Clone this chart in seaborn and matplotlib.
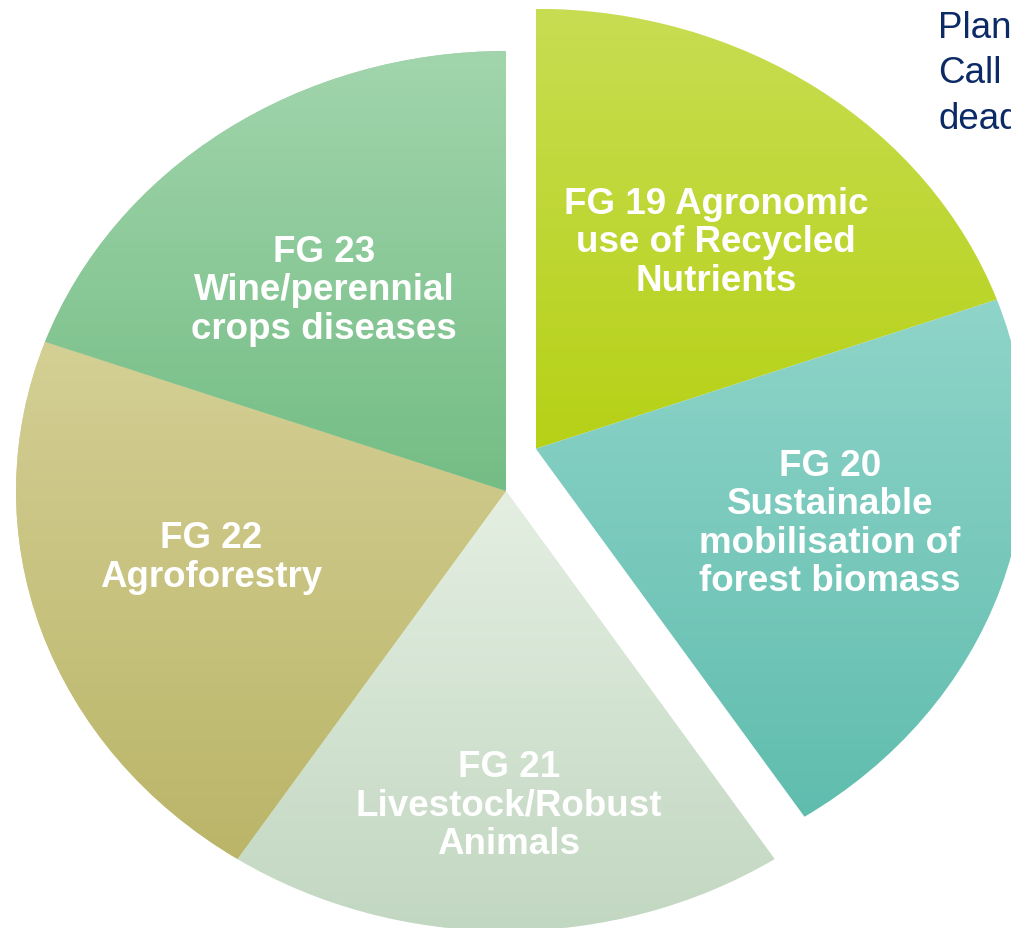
import numpy as np
import matplotlib
matplotlib.use("Agg")
import matplotlib.pyplot as plt
import seaborn as sns
from matplotlib.colors import LinearSegmentedColormap

sns.set_theme(style="white")
plt.rcParams['font.family'] = ['Liberation Sans', 'DejaVu Sans']

# ---- data ----
labels = ["FG 19 Agronomic\nuse of Recycled\nNutrients",
          "FG 20\nSustainable\nmobilisation of\nforest biomass",
          "FG 21\nLivestock/Robust\nAnimals",
          "FG 22\nAgroforestry",
          "FG 23\nWine/perennial\ncrops diseases"]
# slice shares (measured angular extent on the stretched ellipse, degrees)
shares = [70.2, 76.6, 66.5, 76.6, 70.2]
top_colors = ["#C8DD52", "#8FD4C9", "#E4EFE2", "#D4CF94", "#A2D5AC"]
bottom_colors = ["#B6D116", "#60BDAE", "#C2D7C1", "#BAB568", "#74BD85"]
exploded = [True, True, False, False, False]
side_text = "Plan\nCall\ndead"

# ---- figure ----
W, H = 1011, 929
fig = plt.figure(figsize=(W / 100, H / 100), dpi=100)
ax = fig.add_axes([0, 0, 1, 1])

wedges, _ = ax.pie(shares, startangle=90, counterclock=False, radius=1.0,
                   wedgeprops=dict(linewidth=0, edgecolor="white"))

# group offset for exploded slices (data units)
offset = (0.061, 0.096)
for w, ex in zip(wedges, exploded):
    if ex:
        w.set_center(offset)
        w.set_linewidth(1.2)

# stretched ellipse: center pixel (506, 492), radii 490 x 440
cx, cy, rx, ry = 506, 492, 490, 440
ax.set_aspect('auto')
ax.set_xlim(-cx / rx, (W - cx) / rx)
ax.set_ylim((cy - H) / ry, cy / ry)
ax.axis('off')

# gradient fill clipped to each wedge
for w, c0, c1 in zip(wedges, top_colors, bottom_colors):
    cmap = LinearSegmentedColormap.from_list("g", [c1, c0])
    bb = w.get_path().get_extents(w.get_patch_transform())
    grad = np.linspace(0, 1, 256).reshape(-1, 1)
    im = ax.imshow(grad, cmap=cmap, origin='lower', aspect='auto',
                   extent=(bb.x0, bb.x1, bb.y0, bb.y1), zorder=w.get_zorder() + 0.5)
    im.set_clip_path(w)
    w.set_facecolor(c0)

ax.set_xlim(-cx / rx, (W - cx) / rx)
ax.set_ylim((cy - H) / ry, cy / ry)

# slice label positions in pixel units
label_px = [(716, 243), (830, 524), (509, 806), (211, 558), (324, 291)]
for lab, (px, py) in zip(labels, label_px):
    ax.text((px - cx) / rx, (cy - py) / ry, lab, ha='center', va='center',
            color='white', fontsize=26.5, fontweight='bold', linespacing=1.13,
            zorder=10)

fig.text(938 / W, 1 - 11 / H, side_text, ha='left', va='top', color='#0B2A66',
         fontsize=26.5, linespacing=1.38)

fig.savefig("out.png", dpi=100, facecolor="white")
